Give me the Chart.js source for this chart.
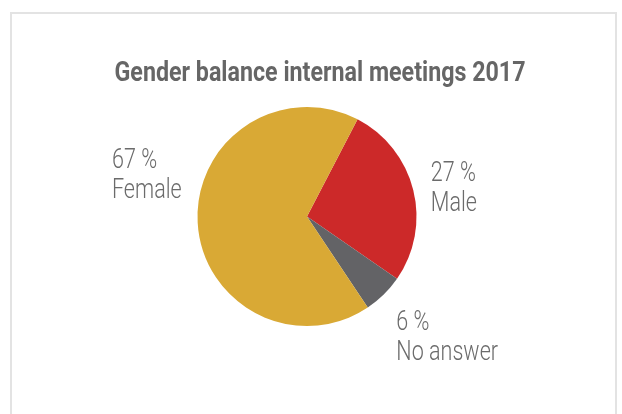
<!DOCTYPE html>
<html>
<head>
<meta charset="utf-8">
<script src="https://cdn.jsdelivr.net/npm/chart.js@4/dist/chart.umd.min.js"></script>
<style>
    html, body { margin: 0; padding: 0; background: #fff; overflow: hidden; }
    #wrap { position: relative; width: 622px; height: 414px; }
    #frame {
        position: absolute; left: 10px; top: 12px; width: 607px; height: 420px;
        border: 2px solid #e3e3e3; box-sizing: border-box;
    }
    canvas { position: absolute; left: 0; top: 0; }
</style>
</head>
<body>
<div id="wrap">
    <div id="frame"></div>
    <canvas id="genderChart" width="622" height="414"></canvas>
</div>
<script>
const chartTitle = 'Gender balance internal meetings 2017';
const categories = ['Male', 'No answer', 'Female'];
const percentages = [27, 6, 67];
const sliceColors = ['#CC2929', '#636366', '#D9A935'];

// nudges for the outside labels, px (block anchor relative to arc mid point)
const labelNudges = [[0, 0], [0, 28], [2, -50]];

// the original uses a condensed face; squeeze Roboto horizontally instead
const labelFont = '300 28px Roboto, sans-serif';
const titleFont = 'bold 28px Roboto, sans-serif';
const labelSqueeze = 0.77;
const titleSqueeze = 0.83;

function squeezedText(ctx, text, x, y, k) {
    ctx.save();
    ctx.translate(x, y);
    ctx.scale(k, 1);
    ctx.fillText(text, 0, 0);
    ctx.restore();
}

const outsideLabels = {
    id: 'outsideLabels',
    afterDraw(chart) {
        const ctx = chart.ctx;
        const meta = chart.getDatasetMeta(0);
        ctx.save();

        // title
        ctx.font = titleFont;
        ctx.fillStyle = '#666666';
        ctx.textAlign = 'center';
        ctx.textBaseline = 'alphabetic';
        squeezedText(ctx, chartTitle, 320, 81, titleSqueeze);

        ctx.font = labelFont;
        ctx.fillStyle = '#6b6b6b';
        ctx.textAlign = 'left';
        meta.data.forEach((arc, i) => {
            const p = arc.getProps(['x', 'y', 'startAngle', 'endAngle', 'outerRadius'], true);
            const mid = (p.startAngle + p.endAngle) / 2;
            const r = p.outerRadius + 18;
            const ax = p.x + Math.cos(mid) * r;
            const ay = p.y + Math.sin(mid) * r;
            const lines = [percentages[i] + ' %', categories[i]];
            const w = Math.max(...lines.map(l => ctx.measureText(l).width)) * labelSqueeze;
            const left = (Math.cos(mid) < 0 ? ax - w : ax) + labelNudges[i][0];
            const top = ay - 25 + labelNudges[i][1];
            squeezedText(ctx, lines[0], left, top + 20, labelSqueeze);
            squeezedText(ctx, lines[1], left, top + 50, labelSqueeze);
        });
        ctx.restore();
    }
};

new Chart(document.getElementById('genderChart'), {
    type: 'pie',
    data: {
        labels: categories,
        datasets: [{
            data: percentages,
            backgroundColor: sliceColors,
            borderWidth: 0
        }]
    },
    options: {
        responsive: false,
        animation: false,
        rotation: 27.5,
        layout: { padding: { left: 197, right: 205, top: 107, bottom: 88 } },
        plugins: {
            legend: { display: false },
            title: { display: false },
            tooltip: { enabled: false }
        }
    },
    plugins: [outsideLabels]
});
</script>
</body>
</html>
